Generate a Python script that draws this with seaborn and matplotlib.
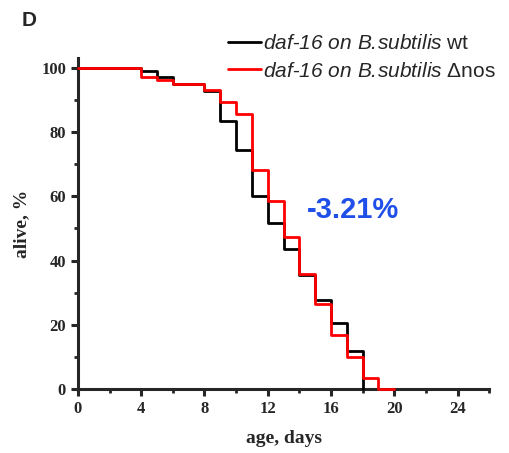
import matplotlib
matplotlib.use("Agg")
import matplotlib.pyplot as plt
import seaborn as sns
import pandas as pd
from matplotlib.ticker import MultipleLocator

# survival curves, % alive at the start of each day
days_wt = [0, 4, 5, 6, 8, 9, 10, 11, 12, 13, 14, 15, 16, 17, 18]
alive_wt = [100, 99.1, 97.0, 95.0, 92.7, 83.5, 74.5, 60.2, 51.6, 43.5, 35.5, 27.6, 20.5, 11.9, 0]

days_nos = [0, 4, 5, 6, 8, 9, 10, 11, 12, 13, 14, 15, 16, 17, 18, 19, 20]
alive_nos = [100, 97.2, 96.0, 95.0, 92.9, 89.2, 85.6, 68.3, 58.5, 47.3, 35.9, 26.6, 16.8, 10.0, 3.5, 0, 0]

label_wt = r"$daf$-$16\ on\ B.\!subtilis$ wt"
label_nos = r"$daf$-$16\ on\ B.\!subtilis$ Δnos"
change_text = "-3.21%"

sns.set_style("ticks")
plt.rcParams["mathtext.fontset"] = "custom"
plt.rcParams["mathtext.it"] = "Liberation Sans:italic"
plt.rcParams["mathtext.rm"] = "Liberation Sans:italic"
plt.rcParams["mathtext.default"] = "it"

df = pd.concat([
    pd.DataFrame({"day": days_wt, "alive": alive_wt, "group": label_wt}),
    pd.DataFrame({"day": days_nos, "alive": alive_nos, "group": label_nos}),
])

fig = plt.figure(figsize=(5.09, 4.53), dpi=100)
ax = fig.add_axes([0.153, 0.141, 0.808, 0.731])

sns.lineplot(data=df, x="day", y="alive", hue="group", drawstyle="steps-post",
             palette={label_wt: "black", label_nos: "#ff0000"}, linewidth=2,
             estimator=None, ax=ax)
for line in ax.lines:
    line.set_clip_on(False)
    line.set_zorder(3)

ax.set_xlim(0, 26)
ax.set_ylim(0, 103)
ax.xaxis.set_major_locator(MultipleLocator(4))
ax.xaxis.set_minor_locator(MultipleLocator(2))
ax.yaxis.set_major_locator(MultipleLocator(20))
ax.yaxis.set_minor_locator(MultipleLocator(10))
sns.despine(ax=ax)
for s in ["left", "bottom"]:
    ax.spines[s].set_linewidth(2.2)
ax.tick_params(which="major", length=5, width=2.2)
ax.tick_params(which="minor", length=3, width=2)

tick_font = {"family": "Liberation Serif", "weight": "bold", "size": 12}
for lbl in ax.get_xticklabels() + ax.get_yticklabels():
    lbl.set_fontproperties(tick_font)
ax.set_xlabel("age, days", fontdict={"family": "Liberation Serif", "weight": "bold", "size": 14},
              labelpad=9.5)
ax.set_ylabel("alive, %", fontdict={"family": "Liberation Serif", "weight": "bold", "size": 14},
              labelpad=8)

ax.text(17.4, 55.6, change_text, color="#1f4fe8", fontsize=21, fontweight="bold",
        family="Liberation Sans", ha="center", va="center")

fig.text(0.043, 0.955, "D", fontsize=15, fontweight="bold", family="Liberation Sans",
         ha="left", va="center")

leg = ax.legend(loc="upper right", bbox_to_anchor=(1.035, 1.097), frameon=False,
                prop={"family": "Liberation Sans", "size": 15}, handlelength=1.6,
                handletextpad=0.05, labelspacing=0.4, borderaxespad=0)
for line in leg.get_lines():
    line.set_linewidth(2)

fig.savefig("out.png", dpi=100)
